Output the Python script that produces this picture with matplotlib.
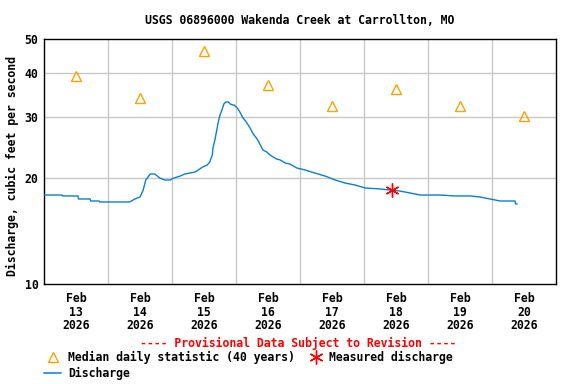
import numpy as np
import pandas as pd
import matplotlib
matplotlib.use("Agg")
import matplotlib.pyplot as plt
import matplotlib.dates as mdates
from matplotlib.lines import Line2D
from matplotlib.ticker import FixedLocator, NullLocator

# ------------------- data ----------------------------------------------- #
START = pd.Timestamp("2026-02-13 00:00")

# discharge: days since Feb 13 00:00, cfs
q_days = [0.00, 0.28, 0.29, 0.53, 0.54, 0.72, 0.73, 0.86, 0.87, 1.34, 1.42,
          1.50, 1.55, 1.59, 1.66, 1.73, 1.77, 1.81, 1.89, 1.97, 2.03, 2.13,
          2.20, 2.28, 2.36, 2.41, 2.48, 2.55, 2.59, 2.63, 2.64, 2.67, 2.70,
          2.72, 2.75, 2.78, 2.81, 2.84, 2.88, 2.91, 2.95, 2.97, 3.02, 3.06,
          3.11, 3.16, 3.22, 3.27, 3.33, 3.38, 3.42, 3.48, 3.53, 3.58, 3.63,
          3.69, 3.77, 3.84, 3.95, 4.08, 4.23, 4.39, 4.55, 4.70, 4.86, 5.02,
          5.25, 5.41, 5.56, 5.72, 5.88, 6.19, 6.42, 6.66, 6.81, 7.13, 7.36,
          7.37, 7.39]
q_cfs = [17.94, 17.94, 17.83, 17.83, 17.48, 17.48, 17.25, 17.25, 17.14,
         17.14, 17.48, 17.71, 18.54, 19.80, 20.60, 20.60, 20.33, 20.06, 19.80,
         19.80, 20.06, 20.33, 20.60, 20.73, 20.87, 21.15, 21.57, 21.85, 22.29,
         23.34, 24.43, 25.76, 27.51, 28.80, 30.35, 31.36, 32.62, 33.06, 33.06,
         32.62, 32.41, 32.41, 31.78, 30.95, 29.76, 28.99, 27.87, 26.79, 25.93,
         24.93, 24.12, 23.80, 23.34, 23.04, 22.74, 22.59, 22.14, 22.00, 21.43,
         21.15, 20.73, 20.33, 19.80, 19.42, 19.16, 18.79, 18.67, 18.54, 18.42,
         18.18, 17.94, 17.94, 17.83, 17.83, 17.71, 17.25, 17.25, 16.92, 16.92]

# median daily statistic (40 years), plotted at noon
med_dates = ["2026-02-13", "2026-02-14", "2026-02-15", "2026-02-16",
             "2026-02-17", "2026-02-18", "2026-02-19", "2026-02-20"]
med_cfs = [39.2, 34.0, 46.2, 37.0, 32.2, 36.0, 32.2, 30.1]

# measured discharge
meas_time = "2026-02-18 10:30"
meas_cfs = 18.5

y_ticks = [10, 20, 30, 40, 50]
TITLE = "USGS 06896000 Wakenda Creek at Carrollton, MO"
YLABEL = "Discharge, cubic feet per second"

# ------------------- styling -------------------------------------------- #
FONT = "DejaVu Sans Mono"
FS = 8.3
BLUE = "#0a7fd0"
ORANGE = "#ffa000"
GRID = "#c8c8c8"

plt.rcParams["font.family"] = FONT
plt.rcParams["font.weight"] = "bold"

fig = plt.figure(figsize=(5.76, 3.84), dpi=100)
ax = fig.add_axes([44/576, 1 - 284/384, 512/576, 245/384])

q_t = [START + pd.Timedelta(days=d) for d in q_days]
ax.plot(q_t, q_cfs, color=BLUE, lw=1.0, zorder=3)

med_t = [pd.Timestamp(d) + pd.Timedelta(hours=12) for d in med_dates]
ax.plot(med_t, med_cfs, ls="none", marker="^", ms=7, mfc="none",
        mec=ORANGE, mew=1.0, zorder=4)

ax.plot([pd.Timestamp(meas_time)], [meas_cfs], ls="none", marker=(6, 2, 0),
        ms=10, color="red", mew=1.0, zorder=5)

ax.set_yscale("log")
ax.set_ylim(10, 50)
ax.yaxis.set_major_locator(FixedLocator(y_ticks))
ax.yaxis.set_minor_locator(NullLocator())
ax.set_yticklabels([str(v) for v in y_ticks])

ax.set_xlim(START, START + pd.Timedelta(days=8))
lab_t = [pd.Timestamp(d) + pd.Timedelta(hours=12) for d in med_dates]
ax.set_xticks([mdates.date2num(t) for t in lab_t])
ax.set_xticklabels([t.strftime("%b\n%d\n%Y") for t in lab_t], linespacing=1.05)
ax.tick_params(length=0, labelsize=FS, pad=6)
ax.tick_params(axis="y", pad=4)

for d in range(1, 8):
    ax.axvline(START + pd.Timedelta(days=d), color=GRID, lw=1.0, zorder=1)
for v in y_ticks[1:-1]:
    ax.axhline(v, color=GRID, lw=1.0, zorder=1)

for s in ax.spines.values():
    s.set_linewidth(1.0)
    s.set_color("black")

ax.set_title(TITLE, fontsize=FS, fontweight="bold", pad=11)
fig.text(12/576, 1 - 166/384, YLABEL, rotation=90, ha="center", va="center",
         fontsize=FS, fontweight="bold")

# ------------------- footer legend -------------------------------------- #
fig.text(298/576, 1 - 343/384, "---- Provisional Data Subject to Revision ----",
         color="red", ha="center", va="center", fontsize=FS, fontweight="bold")

fig.add_artist(Line2D([53/576], [1 - 357/384], marker="^", ms=7, mfc="none",
                      mec=ORANGE, mew=1.0, ls="none"))
fig.text(68/576, 1 - 357/384, "Median daily statistic (40 years)",
         ha="left", va="center", fontsize=FS, fontweight="bold")
fig.add_artist(Line2D([316/576], [1 - 357/384], marker=(6, 2, 0), ms=10,
                      color="red", mew=1.0, ls="none"))
fig.text(329/576, 1 - 357/384, "Measured discharge",
         ha="left", va="center", fontsize=FS, fontweight="bold")
fig.add_artist(Line2D([44/576, 61/576], [1 - 373/384, 1 - 373/384],
                      color=BLUE, lw=1.1))
fig.text(68/576, 1 - 373/384, "Discharge",
         ha="left", va="center", fontsize=FS, fontweight="bold")

fig.savefig("out.png", dpi=100)
